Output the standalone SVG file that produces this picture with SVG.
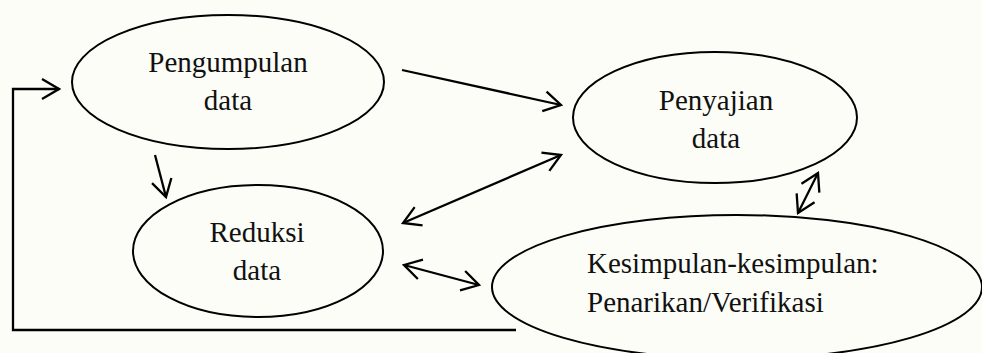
<svg xmlns="http://www.w3.org/2000/svg" width="982" height="353" viewBox="0 0 982 353">
<defs>
<style>
.node ellipse{fill:none;stroke:#000;stroke-width:2}
.node text{font-family:"Liberation Serif","Times New Roman",serif;font-size:29px;fill:#111}
.c{fill:none;stroke:#000;stroke-width:2.3}
.a{marker-end:url(#ah)}
.d{marker-end:url(#ah);marker-start:url(#ah)}
</style>
<marker id="ah" markerUnits="userSpaceOnUse" viewBox="-20 -12 22 24" refX="0" refY="0" markerWidth="22" markerHeight="24" orient="auto-start-reverse">
<path d="M-17,-10 L0,0 L-17,10" fill="none" stroke="#000" stroke-width="2.3"/>
</marker>
</defs>
<rect width="982" height="353" fill="#fcfdf7"/>
<g id="connectors">
<path class="c a" d="M516,330 H13 V89 H59"/>
<line class="c a" x1="402" y1="70" x2="561" y2="105"/>
<line class="c d" x1="403" y1="223" x2="561" y2="155"/>
<line class="c a" x1="155" y1="155" x2="166" y2="197"/>
<line class="c d" x1="404" y1="265" x2="479" y2="285"/>
<line class="c d" x1="818" y1="173" x2="798" y2="213"/>
</g>
<g id="pengumpulan" class="node">
<ellipse cx="228" cy="82" rx="156" ry="67"/>
<text x="228" y="72" text-anchor="middle">Pengumpulan</text>
<text x="228" y="110" text-anchor="middle">data</text>
</g>
<g id="penyajian" class="node">
<ellipse cx="715" cy="117.5" rx="142" ry="65.5"/>
<text x="716" y="110" text-anchor="middle">Penyajian</text>
<text x="716" y="148" text-anchor="middle">data</text>
</g>
<g id="reduksi" class="node">
<ellipse cx="258" cy="251" rx="125" ry="66"/>
<text x="257" y="242" text-anchor="middle">Reduksi</text>
<text x="257" y="280" text-anchor="middle">data</text>
</g>
<g id="kesimpulan" class="node">
<ellipse cx="737" cy="287" rx="245" ry="72"/>
<text x="587" y="273">Kesimpulan-kesimpulan:</text>
<text x="587" y="312">Penarikan/Verifikasi</text>
</g>
</svg>
